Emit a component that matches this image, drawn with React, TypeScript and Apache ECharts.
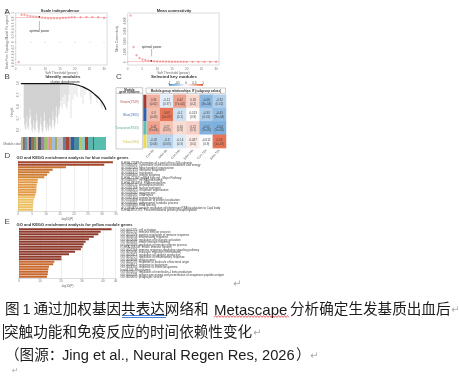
import React, { useEffect, useRef } from "react";
import * as echarts from "echarts";

const SANS = '"Liberation Sans", Arial, sans-serif';
const CJK = '"Liberation Sans", "Noto Sans CJK SC", sans-serif';

const powers = [1,2,3,4,5,6,7,8,9,10,11,12,13,14,15,16,17,18,19,20,22,24,26,28,30];
const fitValues = [-0.7,0.94,0.94,0.91,0.89,0.88,0.87,0.86,0.84,0.83,0.82,0.82,0.82,0.82,0.82,0.83,0.83,0.84,0.85,0.85,0.85,0.86,0.86,0.85,0.83];
const connValues = [4500,1450,650,380,240,170,120,90,70,55,45,35,30,25,20,15,12,10,8,6,5,4,3,2,2];
const powerTicks = [0,5,10,15,20,25,30];
const connTicks = [0,1000,2000,3000,4000];

const crown = [[0,0.995],[45,0.995],[55,0.985],[61,0.97],[68,0.94],[74,0.9],[79,0.86],[83,0.81],[85,0.77]];
const branchX = [3,3.6,4.2,4.8,5.4,6,6.6,7.2,7.8,8.4,9,9.6,10.2,10.8,11.4,12,12.6,13.2,13.8,14.4,15,15.6,16.2,16.8,17.4,18,18.6,19.2,19.8,20.4,21,21.6,22.2,22.8,23.4,24,24.6,25.2,25.8,26.4,27,27.6,28.2,28.8,29.4,30,30.6,31.2,31.8,32.4,33,33.6,34.2,34.8,35.4,36,36.6,37.2,37.8,38.4,39,40,41,42,43,44,45,46,47,48,50,52,54,56,60,62,64,69,70,75,76,80,81];
const branchTop = [0.99,0.99,0.99,0.99,0.99,0.99,0.99,0.99,0.99,0.99,0.99,0.99,0.99,0.99,0.99,0.99,0.99,0.99,0.99,0.99,0.99,0.99,0.99,0.99,0.99,0.99,0.99,0.99,0.99,0.99,0.99,0.99,0.99,0.99,0.99,0.99,0.99,0.99,0.99,0.99,0.99,0.99,0.99,0.99,0.99,0.99,0.99,0.99,0.99,0.99,0.99,0.99,0.99,0.99,0.99,0.99,0.99,0.99,0.99,0.99,0.99,0.99,0.99,0.99,0.99,0.99,0.99,0.99,0.99,0.98,0.98,0.98,0.98,0.975,0.965,0.96,0.955,0.92,0.92,0.89,0.89,0.85,0.84];
const branchLow = [0.7,0.64,0.61,0.6,0.66,0.72,0.62,0.6,0.63,0.7,0.78,0.72,0.65,0.6,0.58,0.62,0.68,0.61,0.58,0.6,0.66,0.74,0.68,0.62,0.58,0.57,0.6,0.65,0.71,0.63,0.59,0.57,0.6,0.67,0.75,0.68,0.62,0.58,0.6,0.65,0.61,0.59,0.63,0.7,0.64,0.6,0.62,0.68,0.76,0.69,0.63,0.61,0.66,0.72,0.8,0.7,0.65,0.72,0.78,0.74,0.8,0.85,0.78,0.88,0.82,0.9,0.8,0.78,0.84,0.9,0.7,0.86,0.9,0.88,0.88,0.82,0.9,0.86,0.82,0.87,0.83,0.8,0.78];
const moduleSpans = [[0,2,"#c9b48e"],[2,4,"#77777f"],[4,6,"#5f9fa7"],[6,8,"#d39a9f"],[8,10,"#3c4a68"],[10,13,"#9c6c5a"],[13,15,"#6da56f"],[15,17,"#cdb17f"],[17,20,"#5a5666"],[20,23,"#a47fb5"],[23,26,"#9ec26c"],[26,28,"#d9a1b4"],[28,31,"#e0a14f"],[31,34,"#9dbfdc"],[34,36,"#a9a95a"],[36,42,"#c4c4c8"],[42,45,"#6f7f93"],[45,48,"#a8443a"],[48,50,"#8c8c94"],[50,53,"#2a5ea8"],[53,58,"#4a8a9a"],[58,61,"#b9c75f"],[61,64,"#8dc7c2"],[64,67,"#b5382f"],[67,72,"#5db5ae"],[72,73,"#2d6bb5"],[73,85,"#58bcae"]] as [number,number,string][];

const timeGroups = ["Con-6h","SAH-6h","Con-24h","SAH-24h","Con-72h","SAH-72h"];
const modules = ["Brown(2749)","Blue(2365)","Turquoise(8743)","Yellow(384)"];
const moduleColors = ["#a03a32","#2f5fa8","#5dbdae","#ecdc50"];
const moduleTextColors = ["#b55a4f","#4a74b0","#5aaea2","#d9c84a"];
const heatValues = [[0.35,-0.12,0.42,0.18,-0.48,-0.32],[0.3,0.63,-0.2,0.013,-0.33,-0.45],[0.42,0.27,0.16,0.21,-0.52,-0.54],[-0.28,-0.3,-0.14,0.087,-0.012,0.63]];
const heatP = [["0.02","0.37","7e-04","0.2","3e-04","0.02"],["0.03","1e-07","0.1","0.9","0.01","9e-04"],["7e-04","0.05","0.3","0.1","7e-05","5e-05"],["0.04","0.03","0.3","0.5","0.9","1e-07"]];
const legendTicks = ["-1","-0.5","0","0.5","1"];

const blueTerms = ["R-HSA-72689: Formation of a pool of free 40S subunits","GO:0006091: Generation of precursor metabolites and energy","GO:0007005: Mitochondrion organization","GO:0022613: ribosome biogenesis","GO:0006412: translation","GO:0006605: protein targeting","R-HSA-72766: mRNA Splicing - Major Pathway","GO:0006397: mRNA processing","R-HSA-8953854: RNA metabolism","GO:0006511: proteolysis process","GO:0051169: nuclear transport","GO:0006325: chromatin organization","GO:0016032: viral process","GO:0006281: DNA repair","GO:0051604: protein maturation","GO:0010608: regulation of protein localization","GO:0043161: proteasomal catabolic process","GO:0008380: RNA splicing","GO:1904874: positive regulation of telomerase RNA localization to Cajal body","R-HSA-8957275: Post-translational protein phosphorylation"];
const yellowTerms = ["GO:0001775: cell activation","GO:0002252: immune effector process","GO:0050778: positive regulation of immune response","GO:0006954: inflammatory response","GO:0002694: regulation of leukocyte activation","GO:0045087: innate immune response","GO:0002697: regulation of immune effector process","R-HSA-168249: Innate Immune System","GO:0002764: immune response-regulating signaling pathway","GO:0050900: leukocyte migration (chemotaxis)","GO:0001817: regulation of cytokine production","GO:0050727: regulation of inflammatory response","GO:0006909: phagocytosis","GO:0002237: response to molecule of bacterial origin","GO:0009617: response to bacterium","GO:0034341: response to interferon-gamma","hsa04145: Phagosome","GO:0032651: regulation of interleukin-1 beta production","GO:0002478: antigen processing and presentation of exogenous peptide antigen","GO:0030670: phagocytic vesicle"];
const blueValues = [33.9,30.8,17.1,12.4,11.2,10.4,9.4,7.1,7,6.7,6.6,6.6,6.5,6.2,6,5.6,5.5,5.4,5.3,5.3];
const blueColors = ["#a2452c","#a2452c","#c8702e","#c8702e","#cc7a30","#cc7a30","#d4842f","#e39a45","#e39a45","#e39a45","#e39a45","#e39a45","#e39a45","#e39a45","#ecc060","#ecc060","#ecc060","#ecc060","#ecc060","#ecc060"];
const yellowValues = [44.1,38.9,37.8,35.6,33.3,31.7,30.8,30.2,29.5,26.7,23.8,20.2,20.2,16.8,16.3,14.3,14,13.8,13.7,13.3];
const yellowColors = ["#8e3a2c","#8e3a2c","#8e3a2c","#8e3a2c","#8e3a2c","#8e3a2c","#8e3a2c","#8e3a2c","#8e3a2c","#8e3a2c","#8e3a2c","#8e3a2c","#8e3a2c","#c8682c","#c8682c","#c8682c","#c8682c","#c8682c","#c8682c","#c8682c"];

const TINY = { fontFamily: SANS, fontSize: 3, color: "#777" };

function tx(text: string, x: number, y: number, fontSize: number, extra: any = {}) {
  return { type: "text", x, y, silent: true, style: { text, fontSize, fontFamily: SANS, fill: "#333", textAlign: "left", textVerticalAlign: "middle", ...extra } };
}
function cap(text: string, x: number, y: number) {
  return tx(text, x, y, 14.6, { fontFamily: CJK, fill: "#1c1c1c" });
}
function ret(x: number, y: number) {
  return tx("↵", x, y, 10, { fontFamily: '"DejaVu Sans"', fill: "#a8a8a8" });
}

function wavePoints(x0: number, x1: number, y: number) {
  const pts: number[][] = [];
  let up = false;
  for (let x = x0; x <= x1; x += 1.5) { pts.push([x, up ? y - 0.9 : y + 0.9]); up = !up; }
  return pts;
}

function valueGrid(i: number, name: string) {
  return {
    gridIndex: i, type: "value", name, nameLocation: "middle", nameGap: 6,
    nameTextStyle: { fontFamily: SANS, fontSize: 3.2, color: "#666" },
    min: 0, splitLine: { show: false },
    axisLine: { show: false },
    axisTick: { show: true, length: 1, lineStyle: { color: "#999", width: 0.4 } },
    axisLabel: { ...TINY, margin: 2 },
  };
}

function barX(i: number, max: number, interval: number) {
  return {
    gridIndex: i, type: "value", min: 0, max, interval, name: "-log10(P)", nameLocation: "middle", nameGap: 6,
    nameTextStyle: { fontFamily: SANS, fontSize: 3, color: "#666" },
    splitLine: { show: true, lineStyle: { color: "#e4e4e4", width: 0.6 } },
    axisLine: { show: true, lineStyle: { color: "#bbb", width: 0.5 } },
    axisTick: { show: true, length: 1, lineStyle: { color: "#999", width: 0.4 } },
    axisLabel: { ...TINY, margin: 1.5 },
  };
}
function barY(i: number, terms: string[]) {
  return [
    { gridIndex: i, type: "category", inverse: true, data: terms, axisLine: { show: true, lineStyle: { color: "#bbb", width: 0.5 } }, axisTick: { show: false }, axisLabel: { show: false } },
    { gridIndex: i, type: "category", inverse: true, position: "right", data: terms, axisLine: { show: false }, axisTick: { show: false },
      axisLabel: { show: true, interval: 0, margin: 5, fontFamily: SANS, fontSize: 2.9, color: "#444", align: "left" } },
  ];
}

export default function App() {
  const ref = useRef<HTMLDivElement>(null);
  const capRef = useRef<HTMLDivElement>(null);
  useEffect(() => {
    document.body.style.margin = "0";
    const chart = echarts.init(ref.current!, undefined, { renderer: "svg", width: 459, height: 376 });
    const caption = echarts.init(capRef.current!, undefined, { renderer: "svg", width: 459, height: 376 });
    const heatData: any[] = [];
    heatValues.forEach((row, r) => row.forEach((v, c) => heatData.push({ value: [c, r, v], p: heatP[r][c] })));

    const option: any = {
      animation: false,
      backgroundColor: "#fff",
      grid: [
        { left: 15.7, top: 13, width: 91.4, height: 52, show: true, borderColor: "#c4c4c4", borderWidth: 0.6, backgroundColor: "transparent" },
        { left: 127.7, top: 13, width: 91.4, height: 52, show: true, borderColor: "#c4c4c4", borderWidth: 0.6, backgroundColor: "transparent" },
        { left: 21, top: 83, width: 86, height: 58.5 },
        { left: 21, top: 137, width: 85, height: 13 },
        { left: 147, top: 94.7, width: 79, height: 53.4 },
        { left: 143.3, top: 94.7, width: 3.2, height: 53.4 },
        { left: 18, top: 161, width: 98, height: 50 },
        { left: 19, top: 228, width: 96.6, height: 50 },
      ],
      xAxis: [
        { ...valueGrid(0, "Soft Threshold (power)"), max: 31, axisLabel: { ...TINY, margin: 2, customValues: powerTicks }, axisTick: { show: true, length: 1, customValues: powerTicks, lineStyle: { color: "#999", width: 0.4 } } },
        { ...valueGrid(1, "Soft Threshold (power)"), max: 31, axisLabel: { ...TINY, margin: 2, customValues: powerTicks }, axisTick: { show: true, length: 1, customValues: powerTicks, lineStyle: { color: "#999", width: 0.4 } } },
        { gridIndex: 2, type: "value", min: 0, max: 86, show: false },
        { gridIndex: 3, type: "value", min: 0, max: 85, show: false },
        { gridIndex: 4, type: "category", data: timeGroups, axisLine: { show: false }, axisTick: { show: false }, axisLabel: { interval: 0, rotate: 45, margin: 2, fontFamily: SANS, fontSize: 3.2, color: "#555" } },
        { gridIndex: 5, type: "category", data: ["m"], show: false },
        barX(6, 35, 5),
        barX(7, 46, 10),
      ],
      yAxis: [
        { ...valueGrid(0, "Scale Free Topology Model Fit, signed R^2"), min: -0.8, max: 1, interval: 0.2, nameGap: 7, axisLabel: { ...TINY, margin: 1.5, rotate: 90 } },
        { ...valueGrid(1, "Mean Connectivity"), min: -300, max: 4750, nameGap: 9, axisLabel: { ...TINY, margin: 1.5, rotate: 90, customValues: connTicks }, axisTick: { show: true, length: 1, customValues: connTicks, lineStyle: { color: "#999", width: 0.4 } } },
        { ...valueGrid(2, "Height"), min: 0.5, max: 1, interval: 0.1, nameGap: 8, axisLabel: { ...TINY, margin: 2, rotate: 90, formatter: (v: number) => (v < 0.55 ? "" : v.toFixed(1)) } },
        { gridIndex: 3, type: "value", min: 0, max: 1, show: false },
        { gridIndex: 4, type: "category", inverse: true, data: modules, show: false },
        { gridIndex: 5, type: "category", inverse: true, data: modules, axisLine: { show: false }, axisTick: { show: false },
          axisLabel: { interval: 0, margin: 4.5, fontFamily: SANS, fontSize: 3.2, color: (_: string, i: number) => moduleTextColors[i] } },
        ...barY(6, blueTerms),
        ...barY(7, yellowTerms),
      ],
      visualMap: { show: false, seriesIndex: 6, min: -0.8, max: 0.8, dimension: 2, inRange: { color: ["#3f8ace", "#ffffff", "#e04f28"] } },
      series: [
        { type: "scatter", xAxisIndex: 0, yAxisIndex: 0, z: 3, data: powers.map((p, i) => [p, fitValues[i]]), symbol: "circle", symbolSize: 2.4,
          itemStyle: { color: "#f5a8a8", opacity: 1 },
          markLine: { silent: true, symbol: "none", label: { show: false }, lineStyle: { color: "#f09090", width: 0.5, type: "solid" }, data: [{ yAxis: 0.85 }] },
        },
        { type: "scatter", xAxisIndex: 1, yAxisIndex: 1, z: 3, data: powers.map((p, i) => [p, connValues[i]]), symbol: "circle", symbolSize: 2.4,
          itemStyle: { color: "#f5a8a8", opacity: 1 },
          markLine: { silent: true, symbol: "none", label: { show: false }, lineStyle: { color: "#f09090", width: 0.5, type: "solid" }, data: [{ yAxis: 100 }] },
        },
        { type: "scatter", xAxisIndex: 0, yAxisIndex: 0, z: 4, data: [[8, 0.86]], symbolSize: 1.6, itemStyle: { color: "#222" } },
        { type: "scatter", xAxisIndex: 1, yAxisIndex: 1, z: 4, data: [[8, 90]], symbolSize: 1.6, itemStyle: { color: "#222" } },
        { type: "custom", xAxisIndex: 2, yAxisIndex: 2, data: branchX.map((x, i) => [x, branchTop[i], branchLow[i]]),
          renderItem: (_: any, api: any) => {
            const a = api.coord([api.value(0), api.value(1)]);
            const b = api.coord([api.value(0), api.value(2)]);
            return { type: "line", shape: { x1: a[0], y1: a[1], x2: b[0], y2: b[1] }, style: { stroke: "#555", lineWidth: 0.35, opacity: 0.5 } };
          } },
        { type: "line", xAxisIndex: 2, yAxisIndex: 2, data: crown, smooth: true, symbol: "none", lineStyle: { color: "#111", width: 1.2 } },
        { type: "heatmap", xAxisIndex: 4, yAxisIndex: 4, data: heatData,
          label: { show: true, fontFamily: SANS, fontSize: 3, lineHeight: 3.6, color: "#444", textBorderWidth: 0, textBorderColor: "transparent",
            formatter: (p: any) => `${p.value[2]}\n(${p.data.p})` },
          itemStyle: { borderWidth: 0 } },
        { type: "custom", xAxisIndex: 3, yAxisIndex: 3, data: moduleSpans.map((s) => [s[0], s[1]]),
          renderItem: (params: any, api: any) => {
            const a = api.coord([api.value(0), 1]);
            const b = api.coord([api.value(1), 0]);
            return { type: "rect", shape: { x: a[0], y: a[1], width: b[0] - a[0], height: b[1] - a[1] }, style: { fill: moduleSpans[params.dataIndex][2] } };
          } },
        { type: "custom", xAxisIndex: 5, yAxisIndex: 5, data: modules.map((_, i) => [0, i]),
          renderItem: (params: any, api: any) => {
            const c = api.coord([0, api.value(1)]);
            const s = api.size([1, 1]);
            return { type: "rect", shape: { x: c[0] - s[0] / 2, y: c[1] - s[1] / 2, width: s[0], height: s[1] }, style: { fill: moduleColors[params.dataIndex] } };
          } },
        { type: "bar", xAxisIndex: 6, yAxisIndex: 6, data: blueValues.map((v, i) => ({ value: v, itemStyle: { color: blueColors[i] } })), barCategoryGap: "18%" },
        { type: "bar", xAxisIndex: 7, yAxisIndex: 8, data: yellowValues.map((v, i) => ({ value: v, itemStyle: { color: yellowColors[i] } })), barCategoryGap: "18%" },
      ],
      graphic: [
        tx("A", 4.5, 11, 8, { fill: "#444" }),
        tx("B", 4.5, 76.7, 8, { fill: "#444" }),
        tx("C", 116, 76, 8, { fill: "#444" }),
        tx("D", 4.5, 155, 8, { fill: "#444" }),
        tx("E", 4.5, 221, 8, { fill: "#444" }),
        tx("Scale independence", 60, 10.5, 4, { textAlign: "center", fontWeight: "bold" }),
        tx("Mean connectivity", 174, 10.5, 4, { textAlign: "center", fontWeight: "bold" }),
        tx("Identify modules", 63, 76.5, 4.4, { textAlign: "center", fontWeight: "bold" }),
        tx("cluster dendrogram", 65, 81.5, 3.4, { textAlign: "center" }),
        tx("Module colors", 3.5, 143.5, 3, { fill: "#666" }),
        tx("Selected key modules", 174, 76.5, 4.4, { textAlign: "center", fontWeight: "bold" }),
        tx("optimal power", 39.5, 31, 3.2, { textAlign: "center" }),
        tx("optimal power", 151.7, 46.7, 3.2, { textAlign: "center" }),
        { type: "line", silent: true, shape: { x1: 39.4, y1: 21, x2: 39.4, y2: 29.5 }, style: { stroke: "#555", lineWidth: 0.4 } },
        { type: "line", silent: true, shape: { x1: 151.6, y1: 49, x2: 151.6, y2: 56.5 }, style: { stroke: "#555", lineWidth: 0.4 } },
        { type: "rect", silent: true, shape: { x: 116, y: 87.7, width: 26.7, height: 61.3 }, style: { fill: "none", stroke: "#b4b4b4", lineWidth: 0.7 } },
        { type: "line", silent: true, shape: { x1: 116, y1: 93.3, x2: 142.7, y2: 93.3 }, style: { stroke: "#b4b4b4", lineWidth: 0.7 } },
        { type: "rect", silent: true, shape: { x: 146, y: 88, width: 79.5, height: 5.3 }, style: { fill: "none", stroke: "#b4b4b4", lineWidth: 0.7 } },
        tx("Module", 129.4, 89.3, 3, { textAlign: "center", fontWeight: "bold" }),
        tx("gene numbers", 129.4, 92, 3, { textAlign: "center", fontWeight: "bold" }),
        tx("Module-group relationships: R (subgroup values)", 186, 90.7, 3, { textAlign: "center", fontWeight: "bold" }),
        { type: "rect", silent: true, shape: { x: 169, y: 84, width: 34, height: 1.8 },
          style: { fill: new echarts.graphic.LinearGradient(0, 0, 1, 0, [{ offset: 0, color: "#3f8ace" }, { offset: 0.5, color: "#fff" }, { offset: 1, color: "#e04f28" }]) } },
        ...legendTicks.map((t, i) => tx(t, 169 + i * 8.5, 82.4, 2.8, { textAlign: "center" })),
        tx("GO and KEGG enrichment analysis for blue module genes", 16.5, 157.2, 4.05, { fontWeight: "bold" }),
        tx("GO and KEGG enrichment analysis for yellow module genes", 16.5, 224.2, 4.05, { fontWeight: "bold" }),
      ],
    };
    chart.setOption(option);

    caption.setOption({
      animation: false,
      graphic: [
        ret(233, 283),
        cap("图", 5, 309),
        tx("1", 22.5, 309, 14.6, { fill: "#1c1c1c" }),
        cap("通过加权基因共表达网络和", 33.5, 309),
        tx("Metascape", 214, 309, 15, { fill: "#1c1c1c" }),
        cap("分析确定生发基质出血后", 290, 309),
        ret(451, 309),
        { type: "line", silent: true, shape: { x1: 122, y1: 315.5, x2: 166, y2: 315.5 }, style: { stroke: "#1a5fd0", lineWidth: 0.8 } },
        { type: "line", silent: true, shape: { x1: 122, y1: 317.5, x2: 166, y2: 317.5 }, style: { stroke: "#1a5fd0", lineWidth: 0.8 } },
        { type: "polyline", silent: true, shape: { points: wavePoints(214, 290, 316.5) }, style: { stroke: "#e02020", lineWidth: 0.7, fill: "none" } },
        { type: "line", silent: true, shape: { x1: 3.5, y1: 324, x2: 3.5, y2: 340 }, style: { stroke: "#222", lineWidth: 1 } },
        cap("突触功能和免疫反应的时间依赖性变化", 4, 332),
        ret(253, 332),
        cap("（图源：", 5, 355),
        tx("Jing et al., Neural Regen Res, 2026", 62, 355, 14.7, { fill: "#1c1c1c" }),
        cap("）", 296, 355),
        ret(310, 355),
        tx("↵", 12, 370.5, 8, { fontFamily: '"DejaVu Sans"', fill: "#a8a8a8" }),
      ],
    });
    return () => { chart.dispose(); caption.dispose(); };
  }, []);
  return (
    <>
      <div ref={ref} style={{ width: 459, height: 376, position: "fixed", left: 0, top: 0, filter: "blur(0.35px)" }} />
      <div ref={capRef} style={{ width: 459, height: 376, position: "fixed", left: 0, top: 0 }} />
    </>
  );
}
